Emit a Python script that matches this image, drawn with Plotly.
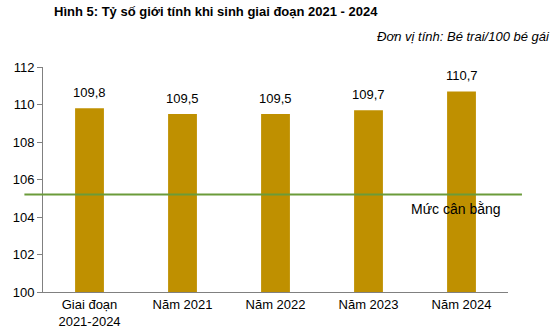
import plotly.graph_objects as go

categories = ["Giai đoạn<br>2021-2024", "Năm 2021", "Năm 2022", "Năm 2023", "Năm 2024"]
ratios = [109.8, 109.5, 109.5, 109.7, 110.7]
balance_level = 105.2
y_ticks = [100, 102, 104, 106, 108, 110, 112]

FONT = "Arial, Liberation Sans, sans-serif"
BAR_COLOR = "#BF9000"
LINE_COLOR = "#6B9B3A"

fig = go.Figure()
fig.add_trace(go.Bar(
    x=categories,
    y=ratios,
    marker=dict(color=BAR_COLOR, line=dict(width=0)),
    cliponaxis=False,
    width=0.31,
))

# Value labels above each bar
for cat, val in zip(categories, ratios):
    fig.add_annotation(x=cat, y=val, xref="x", yref="y",
                       text=f"{val:.1f}".replace(".", ","), showarrow=False,
                       yanchor="bottom", yshift=6,
                       font=dict(family=FONT, size=13, color="#000000"))

# Balance reference line, extending slightly past the plot area
fig.add_shape(type="line", xref="paper", yref="y",
              x0=-0.04, x1=1.03, y0=balance_level, y1=balance_level,
              line=dict(color=LINE_COLOR, width=2))
fig.add_annotation(xref="paper", yref="y", x=0.888, y=balance_level - 0.75,
                   text="Mức cân bằng", showarrow=False,
                   font=dict(family=FONT, size=14, color="#000000"),
                   xanchor="center", yanchor="middle")

fig.add_annotation(xref="paper", yref="paper", x=0, y=1, xanchor="left", yanchor="top",
                   xshift=9, yshift=65,
                   text="<b>Hình 5: Tỷ số giới tính khi sinh giai đoạn 2021 - 2024</b>",
                   showarrow=False, font=dict(family=FONT, size=13, color="#000000"))
fig.add_annotation(xref="paper", yref="paper", x=1, y=1, xanchor="right", yanchor="top",
                   xshift=44, yshift=40,
                   text="<i>Đơn vị tính: Bé trai/100 bé gái</i>",
                   showarrow=False, font=dict(family=FONT, size=13, color="#000000"))

fig.update_layout(
    width=559, height=335,
    margin=dict(l=43, r=51, t=67, b=43, autoexpand=False),
    paper_bgcolor="white", plot_bgcolor="white",
    separators=",.",
    showlegend=False,
    font=dict(family=FONT, size=13, color="#000000"),
)
fig.update_yaxes(range=[100, 112], tickvals=y_ticks, showgrid=False,
                 showline=True, linecolor="#808080", linewidth=1,
                 ticks="outside", ticklen=5, tickcolor="#808080",
                 tickfont=dict(family=FONT, size=13), zeroline=False,
                 automargin=False)
fig.update_xaxes(showline=True, linecolor="#808080", linewidth=1,
                 showgrid=False, ticks="", tickfont=dict(family=FONT, size=13),
                 automargin=False)

fig.write_html("out.html")
